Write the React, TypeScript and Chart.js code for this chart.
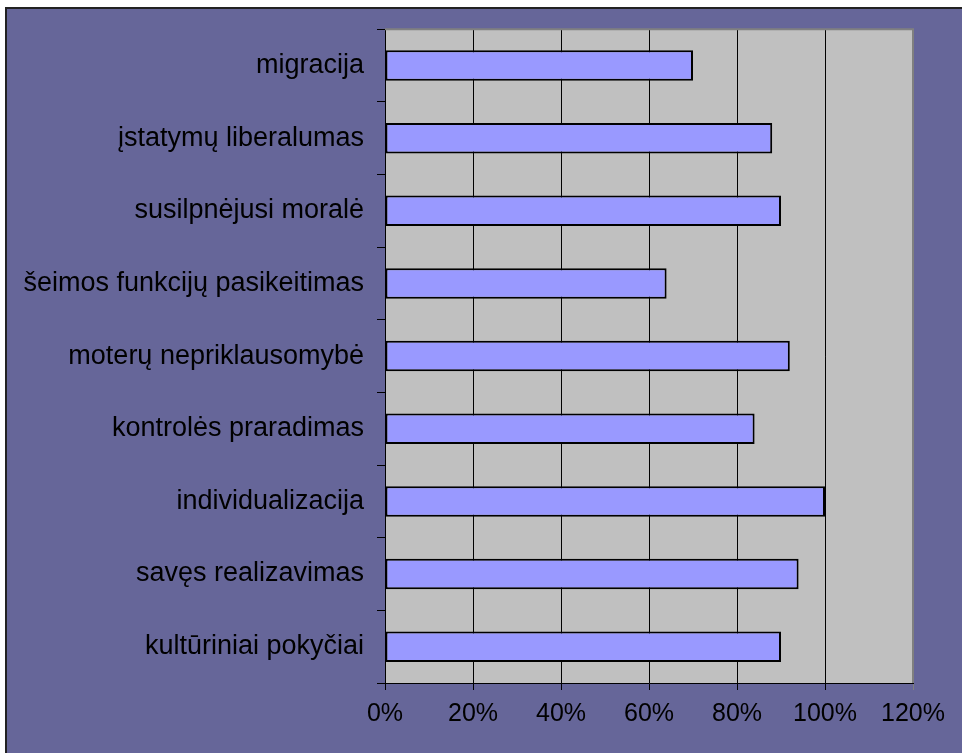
import React, { useEffect, useRef } from "react";
import { Chart, registerables } from "chart.js";

Chart.register(...registerables);

const categories = [
  "migracija",
  "įstatymų liberalumas",
  "susilpnėjusi moralė",
  "šeimos funkcijų pasikeitimas",
  "moterų nepriklausomybė",
  "kontrolės praradimas",
  "individualizacija",
  "savęs realizavimas",
  "kultūriniai pokyčiai",
];
const values = [70, 88, 90, 64, 92, 84, 100, 94, 90];
const xMin = 0;
const xMax = 120;
const xStep = 20;

const plotBackground = {
  id: "plotBackground",
  beforeDraw(chart: any) {
    const { ctx, chartArea } = chart;
    ctx.save();
    ctx.fillStyle = "#C0C0C0";
    ctx.fillRect(chartArea.left, chartArea.top, chartArea.right - chartArea.left, chartArea.bottom - chartArea.top);
    ctx.restore();
  },
  beforeDatasetsDraw(chart: any) {
    const { ctx, chartArea } = chart;
    ctx.save();
    ctx.strokeStyle = "#808080";
    ctx.lineWidth = 2;
    ctx.beginPath();
    ctx.moveTo(chartArea.left, chartArea.top);
    ctx.lineTo(chartArea.right, chartArea.top);
    ctx.lineTo(chartArea.right, chartArea.bottom);
    ctx.stroke();
    ctx.restore();
  },
};

export default function App() {
  const ref = useRef<HTMLCanvasElement>(null);
  useEffect(() => {
    document.body.style.margin = "0";
    const chart = new Chart(ref.current!, {
      type: "bar",
      data: {
        labels: categories,
        datasets: [
          {
            data: values,
            backgroundColor: "#9999FF",
            borderColor: "#000000",
            borderWidth: 2,
            borderSkipped: false,
            barPercentage: 0.42,
            categoryPercentage: 1,
          },
        ],
      },
      options: {
        indexAxis: "y",
        animation: false,
        responsive: false,
        maintainAspectRatio: false,
        layout: { padding: { left: 6, top: 29, right: 49, bottom: 0 } },
        plugins: {
          legend: { display: false },
          tooltip: { enabled: false },
        },
        scales: {
          x: {
            min: xMin,
            max: xMax,
            ticks: {
              stepSize: xStep,
              color: "#000000",
              padding: 9,
              font: { family: "Liberation Sans, Arial", size: 25 },
              callback: (v: any) => v + "%",
            },
            grid: {
              color: (c: any) => (c.tick && c.tick.value === xMax ? "#808080" : "#000000"),
              lineWidth: 1,
              tickLength: 7,
              drawTicks: true,
            },
            border: { color: "#000000", width: 1 },
            afterFit: (s: any) => {
              s.height = 70;
            },
          },
          y: {
            ticks: {
              color: "#000000",
              padding: 13,
              font: { family: "Liberation Sans, Arial", size: 27 },
            },
            grid: {
              offset: true,
              drawOnChartArea: false,
              drawTicks: true,
              tickLength: 8,
              color: "#000000",
            },
            border: { color: "#000000", width: 1 },
            afterFit: (s: any) => {
              s.width = 379;
            },
          },
        },
      },
      plugins: [plotBackground],
    });
    return () => chart.destroy();
  }, []);
  return (
    <div style={{ position: "relative", width: 962, height: 753, overflow: "hidden", background: "#ffffff" }}>
      <div
        style={{
          position: "absolute",
          left: 5,
          top: 7,
          width: 962,
          height: 753,
          background: "#666699",
          borderLeft: "2px solid #222222",
          borderTop: "2px solid #222222",
        }}
      />
      <canvas ref={ref} width={962} height={753} style={{ position: "absolute", left: 0, top: 0 }} />
    </div>
  );
}
